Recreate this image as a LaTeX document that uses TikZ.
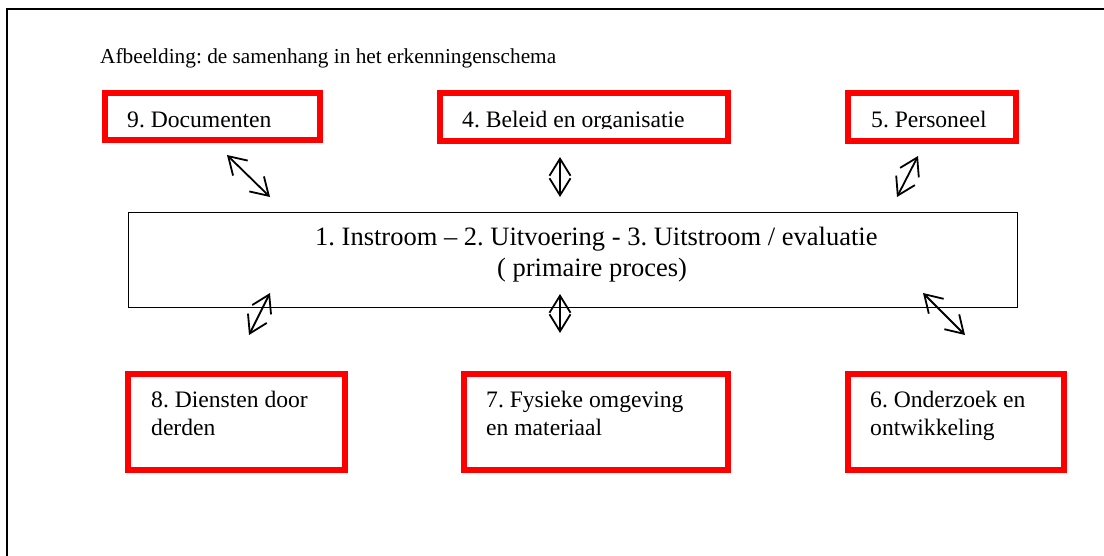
\documentclass[tikz,border=0pt]{standalone}
\usepackage{fontspec}
\setmainfont{Liberation Serif}
\frenchspacing
\usetikzlibrary{arrows.meta}
\tikzset{
  redbox/.style={draw=red, line width=6pt, inner sep=0pt},
  mainbox/.style={draw=black, line width=1.2pt, inner sep=0pt},
  boxtext/.style={anchor=base west, inner sep=0pt, font=\fontsize{23.6}{28}\selectfont},
  maintext/.style={anchor=base west, inner sep=0pt, font=\fontsize{26.5}{31}\selectfont},
  titletext/.style={anchor=base west, inner sep=0pt, font=\fontsize{21.3}{25}\selectfont},
  dblarrow/.style={line width=1.8pt, {Straight Barb[length=17pt,width=21pt]}-{Straight Barb[length=17pt,width=21pt]}},
}
\begin{document}
\begin{tikzpicture}[x=1pt,y=-1pt]
\useasboundingbox (0,0) rectangle (1104,555);
\fill[white] (0,0) rectangle (1104,555);
% frame
\coordinate (fbl) at (7,556);
\coordinate (ftl) at (7,9);
\coordinate (ftr) at (1105,9);
\draw[line width=2pt] (fbl) -- (ftl) -- (ftr);
% title
\node[titletext] (title) at (100,63) {Afbeelding: de samenhang in het erkenningenschema};
% top boxes
\node[redbox, minimum width=215, minimum height=47] (b9) at (212.5,116.5) {};
\node[boxtext] (t9) at (127,127.5) {9. Documenten};
\node[redbox, minimum width=288, minimum height=48] (b4) at (584,117) {};
\begin{scope}
\clip (440,93) rectangle (728,128.6);
\node[boxtext] (t4) at (462,127) {4. Beleid en organisatie};
\end{scope}
\node[redbox, minimum width=168, minimum height=48] (b5) at (932,117) {};
\node[boxtext] (t5) at (871,127.5) {5. Personeel};
% main box
\node[mainbox, minimum width=889, minimum height=95] (main) at (573,260) {};
\node[maintext] (m1) at (315,245) {1. Instroom – 2. Uitvoering - 3. Uitstroom / evaluatie};
\node[maintext] (m2) at (497,276) {( primaire proces)};
% bottom boxes
\node[redbox, minimum width=217, minimum height=96] (b8) at (236.5,422) {};
\node[boxtext] (t8a) at (151,407) {8. Diensten door};
\node[boxtext] (t8b) at (151,435) {derden};
\node[redbox, minimum width=264, minimum height=96] (b7) at (596,422) {};
\node[boxtext] (t7a) at (486,407) {7. Fysieke omgeving};
\node[boxtext] (t7b) at (486,435) {en materiaal};
\node[redbox, minimum width=216, minimum height=96] (b6) at (956,422) {};
\node[boxtext] (t6a) at (870,407) {6. Onderzoek en};
\node[boxtext] (t6b) at (870,435) {ontwikkeling};
% arrows
\coordinate (a9s) at (227,155); \coordinate (a9e) at (270,197);
\coordinate (a4s) at (560,157); \coordinate (a4e) at (560,197);
\coordinate (a5s) at (918,156); \coordinate (a5e) at (897,197);
\coordinate (a8s) at (270,293); \coordinate (a8e) at (249,335);
\coordinate (a7s) at (560,294); \coordinate (a7e) at (560,333);
\coordinate (a6s) at (923,293); \coordinate (a6e) at (965,335);
\draw[dblarrow] (a9s) -- (a9e);
\draw[dblarrow] (a4s) -- (a4e);
\draw[dblarrow] (a5s) -- (a5e);
\draw[dblarrow] (a8s) -- (a8e);
\draw[dblarrow] (a7s) -- (a7e);
\draw[dblarrow] (a6s) -- (a6e);
\end{tikzpicture}
\end{document}
